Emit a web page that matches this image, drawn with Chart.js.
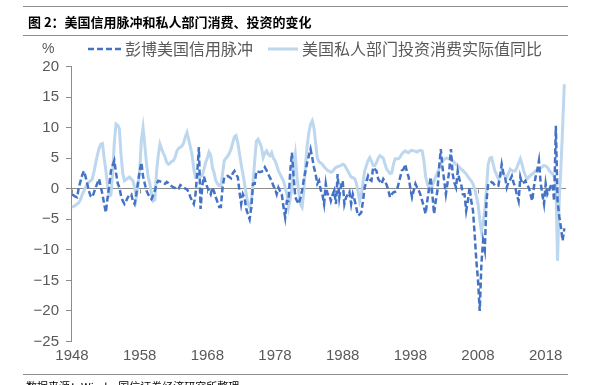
<!DOCTYPE html>
<html>
<head>
<meta charset="utf-8">
<script src="https://cdn.jsdelivr.net/npm/chart.js@4.4.1/dist/chart.umd.min.js"></script>
<style>
  html, body { margin: 0; padding: 0; background: #fff; }
  #wrap { position: relative; width: 595px; height: 385px; overflow: hidden; font-family: "Noto Sans CJK SC", sans-serif; }
  #chart { position: absolute; left: 0; top: 0; }
  .rule { position: absolute; left: 23px; width: 545px; height: 1px; background: #8c8c8c; }
  #title { position: absolute; left: 28px; top: 13px; font-size: 13px; line-height: 18px; font-weight: bold; color: #000; }
  #unit { position: absolute; left: 42px; top: 39px; font-size: 14px; line-height: 18px; color: #595959; font-family: "Liberation Sans", sans-serif; }
  .leg { position: absolute; top: 38px; font-size: 16px; line-height: 20px; color: #595959; white-space: nowrap; }
  .leg svg { position: absolute; top: 9px; }
  #foot { position: absolute; left: 26px; top: 379px; font-size: 11px; line-height: 14px; color: #000; }
</style>
</head>
<body>
<div id="wrap">
  <canvas id="chart" width="595" height="385"></canvas>
  <div class="rule" style="top:6px"></div>
  <div id="title">图 2：美国信用脉冲和私人部门消费、投资的变化</div>
  <div class="rule" style="top:35px"></div>
  <div id="unit">%</div>
  <div class="leg" style="left:88px">
    <svg width="34" height="4"><line x1="0" y1="2" x2="34" y2="2" stroke="#4472c4" stroke-width="2.5" stroke-dasharray="6 3"/></svg>
    <span style="margin-left:37px">彭博美国信用脉冲</span>
  </div>
  <div class="leg" style="left:268px">
    <svg width="30" height="4"><line x1="0" y1="2" x2="30" y2="2" stroke="#bdd7ee" stroke-width="3"/></svg>
    <span style="margin-left:34px">美国私人部门投资消费实际值同比</span>
  </div>
  <div class="rule" style="top:374px"></div>
  <div id="foot">数据来源：Wind，国信证券经济研究所整理</div>
</div>
<script>
// quarterly data, first point = 1948 Q1
const startYear = 1948;
const xTickYears = [1948, 1958, 1968, 1978, 1988, 1998, 2008, 2018];
const yTickValues = [20, 15, 10, 5, 0, -5, -10, -15, -20, -25];
const seriesNames = ['彭博美国信用脉冲', '美国私人部门投资消费实际值同比'];

const creditImpulse = [
    -0.9, -1.1, -1.3, -1.4, 0.2, 1.2, 2.2, 2.9,        // 1948
    2.0, 0.8, -0.4, -1.2, -1.4, -0.6, 0.2, 0.9,        // 1950
    1.6, 0.3, -0.9, -2.5, -3.9, -1.5, 0.5, 2.9,        // 1952
    3.8, 4.6, 2.6, 0.9, 0.2, -1.2, -2.0, -2.5,         // 1954
    -2.0, -1.4, -1.0, -0.9, -2.0, -2.5, -0.9, 1.0,     // 1956
    2.9, 4.3, 2.0, 0.8, -0.3, -0.9, -1.4, -1.7,        // 1958
    -1.0, -0.3, 0.8, 1.3, 1.2, 1.1, 0.9, 0.8,          // 1960
    1.1, 0.9, 0.6, 0.4, 0.2, 0.1, -0.1, 0.0,           // 1962
    0.6, 0.4, 0.2, 0.0, -0.1, -0.6, -1.4, -2.0,        // 1964
    -2.5, -0.9, 2.5, 6.8, -3.3, 0.5, 2.0, 1.0,         // 1966
    0.2, -0.3, -0.9, 0.2, -0.5, -1.4, -2.2, -3.0,      // 1968
    -3.0, 0.2, 1.9, 2.0, 2.1, 1.9, 1.7, 2.5,           // 1970
    2.9, 2.3, 1.9, -0.5, -2.5, -0.9, -1.5, -3.3,       // 1972
    -4.2, -5.0, -3.0, 0.8, 0.8, 2.9, 2.8, 2.7,         // 1974
    2.8, 2.9, 3.5, 3.0, 2.4, 1.8, 1.3, 0.5,            // 1976
    0.0, -0.9, 0.2, -0.4, -0.9, -3.0, -4.7, -2.0,      // 1978
    -2.0, 2.9, 5.9, 1.9, -1.4, -2.0, -2.5, -1.5,       // 1980
    -0.3, 1.5, 2.9, 4.3, 5.4, 6.5, 5.1, 3.5,           // 1982
    2.4, 0.8, 1.3, -0.2, -0.9, -2.5, 0.8, -0.9,        // 1984
    -0.9, -2.0, -1.0, -0.3, -2.5, 2.4, -1.4, 0.5,      // 1986
    1.3, -2.5, -1.4, -1.0, -0.5, -2.5, -0.9, -1.8,     // 1988
    -3.0, -4.4, -4.2, -3.9, -2.0, 0.2, 1.2, 2.1,       // 1990
    1.5, 1.3, 3.5, 3.2, 2.9, 1.6, 1.2, 0.8,            // 1992
    1.6, 1.2, 0.6, -0.3, -1.4, -0.9, -0.6, -0.5,       // 1994
    -0.3, 0.8, 1.9, 3.0, 3.2, 4.0, 2.7, 1.9,           // 1996
    0.0, -1.4, -0.3, 0.8, 0.2, -0.3, -1.0, -2.0,       // 1998
    -3.0, -4.1, -2.0, 0.0, 1.9, -0.9, -4.1, -2.0,      // 2000
    -0.3, 3.5, 6.5, 3.5, 1.3, -0.9, 1.0, 2.9,          // 2002
    6.5, 2.4, 1.0, 0.2, 2.9, 1.5, 0.8, -0.9,           // 2004
    -0.9, -3.6, -2.0, 0.2, -2.0, -3.5, -7.4, -11.8,    // 2006
    -15.0, -20.0, -12.3, -8.5, -10.0, -2.0, 0.8, 0.9,  // 2008
    1.1, 0.9, 0.5, 0.5, 0.5, 2.0, 4.0, 2.5,            // 2010
    1.9, 0.2, 1.1, 1.5, 2.1, 1.0, 0.2, -1.0,           // 2012
    -2.0, 1.9, 0.8, 1.0, 1.3, 0.5, 0.2, -0.9,          // 2014
    -2.0, 0.2, 1.9, 3.0, 4.6, 1.0, -0.9, -2.5,         // 2016
    0.8, -0.9, -0.3, 0.5, 0.8, -2.0, 10.3, -2.0,       // 2018
    -4.5, -6.3, -8.5, -6.5                             // 2020
];

const privateSpending = [
    -3.0, -2.9, -2.7, -2.5, -2.3, -1.8, -1.0, -0.4,    // 1948
    0.2, 0.8, 1.1, 1.3, 1.6, 2.8, 4.2, 5.5,            // 1950
    6.6, 7.3, 7.4, 5.0, 3.0, 0.5, -1.2, -1.0,          // 1952
    2.5, 7.5, 10.6, 10.4, 9.8, 5.5, 2.5, 1.3,          // 1954
    1.5, 1.7, 1.9, 1.6, 1.3, 0.2, -1.4, 0.5,           // 1956
    2.9, 8.0, 10.0, 7.2, 4.2, 2.0, 0.8, -0.8,          // 1958
    -2.0, -1.8, 2.9, 5.5, 7.3, 6.5, 5.8, 5.2,          // 1960
    4.3, 4.0, 4.2, 4.5, 4.6, 5.2, 6.2, 6.6,            // 1962
    6.8, 7.0, 7.5, 8.5, 9.2, 8.0, 6.8, 5.5,            // 1964
    3.2, 1.9, 2.0, 2.0, 2.0, 2.2, 3.2, 4.3,            // 1966
    5.0, 6.0, 5.5, 3.5, 2.6, 1.3, 0.8, 0.5,            // 1968
    0.5, 2.5, 4.6, 5.0, 5.3, 5.8, 6.5, 7.5,            // 1970
    8.5, 8.7, 7.5, 5.7, 4.0, 2.4, 0.8, -0.9,           // 1972
    -2.5, -3.0, -2.0, 1.0, 4.6, 7.8, 8.1, 7.5,         // 1974
    6.8, 5.1, 5.8, 6.2, 5.6, 5.4, 5.9, 5.0,            // 1976
    4.6, 3.8, 2.9, 2.4, 1.8, 1.3, 0.2, -0.9,           // 1978
    -3.0, -1.6, 0.2, 3.5, 5.5, 1.9, -0.5, -2.5,        // 1980
    -3.0, -0.5, 3.8, 7.0, 9.2, 10.5, 11.1, 10.0,       // 1982
    7.5, 5.0, 4.4, 4.2, 4.0, 3.6, 3.3, 3.0,            // 1984
    2.9, 2.7, 2.8, 3.2, 3.5, 3.6, 3.7, 3.8,            // 1986
    4.0, 3.9, 3.4, 2.9, 2.4, 1.9, 1.8, 1.7,            // 1988
    1.0, -0.3, -2.0, -1.0, 1.0, 2.9, 3.8, 4.6,         // 1990
    5.1, 4.5, 3.8, 3.8, 4.3, 5.0, 5.4, 5.2,            // 1992
    5.0, 4.0, 3.2, 2.8, 2.5, 2.6, 4.0, 4.9,            // 1994
    4.9, 4.9, 5.2, 5.7, 6.0, 6.2, 6.0, 5.9,            // 1996
    6.2, 6.3, 6.2, 6.1, 6.0, 6.2, 6.3, 6.2,            // 1998
    4.6, 2.0, 0.8, 0.2, -0.3, 0.6, 1.2, 2.0,           // 2000
    2.6, 3.3, 4.0, 4.5, 4.8, 5.0, 5.0, 4.9,            // 2002
    4.9, 4.6, 4.3, 4.0, 3.8, 3.5, 3.2, 3.0,            // 2004
    2.7, 2.4, 2.0, 1.6, 1.3, 0.8, 0.0, -1.2,           // 2006
    -2.5, -5.0, -6.9, -5.5, -3.5, 0.0, 4.0, 5.0,       // 2008
    5.1, 4.0, 2.9, 2.3, 1.6, 2.0, 2.9, 2.5,            // 2010
    2.0, 1.9, 2.5, 3.2, 3.0, 2.9, 2.9, 3.5,            // 2012
    4.2, 4.9, 4.0, 2.9, 2.2, 1.6, 1.9, 2.2,            // 2014
    2.4, 2.6, 2.9, 3.1, 3.2, 3.4, 3.6, 3.8,            // 2016
    3.7, 3.5, 3.0, 2.7, 2.4, 2.0, 1.0, -11.8,          // 2018
    -2.0, 3.5, 10.0, 17.1                              // 2020
];

const toPoints = vals => vals.map((v, i) => ({ x: startYear + i / 4, y: v }));

const tickFont = { family: 'Liberation Sans', size: 15 };
const tickColor = '#595959';
const axisColor = '#8c8c8c';

// small tick marks on the zero line under each year label
const zeroLineTicks = {
    id: 'zeroLineTicks',
    beforeDatasetsDraw(chart) {
        const { ctx, scales: { x, y } } = chart;
        const y0 = Math.round(y.getPixelForValue(0)) + 0.5;
        ctx.save();
        ctx.strokeStyle = axisColor;
        ctx.lineWidth = 1;
        xTickYears.forEach(yr => {
            const px = Math.round(x.getPixelForValue(yr)) + 0.5;
            ctx.beginPath();
            ctx.moveTo(px, y0);
            ctx.lineTo(px, y0 + 4);
            ctx.stroke();
        });
        ctx.restore();
    }
};

new Chart(document.getElementById('chart').getContext('2d'), {
    type: 'line',
    data: {
        datasets: [{
            label: seriesNames[0],
            data: toPoints(creditImpulse),
            borderColor: '#4472c4',
            borderWidth: 2.5,
            borderDash: [6, 3],
            pointRadius: 0,
            tension: 0
        }, {
            label: seriesNames[1],
            data: toPoints(privateSpending),
            borderColor: '#bdd7ee',
            borderWidth: 3,
            pointRadius: 0,
            tension: 0
        }]
    },
    options: {
        responsive: false,
        animation: false,
        layout: { padding: { left: 0, top: 66.5, right: 29, bottom: 13.5 } },
        plugins: {
            legend: { display: false },
            tooltip: { enabled: false }
        },
        scales: {
            x: {
                type: 'linear',
                min: 1947.85,
                max: 2021.0,
                afterBuildTicks: s => { s.ticks = xTickYears.map(v => ({ value: v })); },
                afterFit: s => { s.height = 30; },
                ticks: {
                    font: tickFont,
                    color: tickColor,
                    padding: 5,
                    maxRotation: 0,
                    autoSkip: false,
                    callback: v => String(v)
                },
                grid: { display: false, drawTicks: false },
                border: { display: false }
            },
            y: {
                min: -25,
                max: 20,
                afterBuildTicks: s => { s.ticks = yTickValues.map(v => ({ value: v })); },
                afterFit: s => { s.width = 71; },
                ticks: {
                    font: tickFont,
                    color: tickColor,
                    padding: 7,
                    callback: v => (v < 0 ? '\u2212' + Math.abs(v) : String(v))
                },
                grid: {
                    color: c => (c.tick && c.tick.value === 0 ? axisColor : 'rgba(0,0,0,0)'),
                    tickColor: axisColor,
                    tickLength: 5,
                    lineWidth: 1
                },
                border: { color: axisColor }
            }
        }
    },
    plugins: [zeroLineTicks]
});
</script>
</body>
</html>
